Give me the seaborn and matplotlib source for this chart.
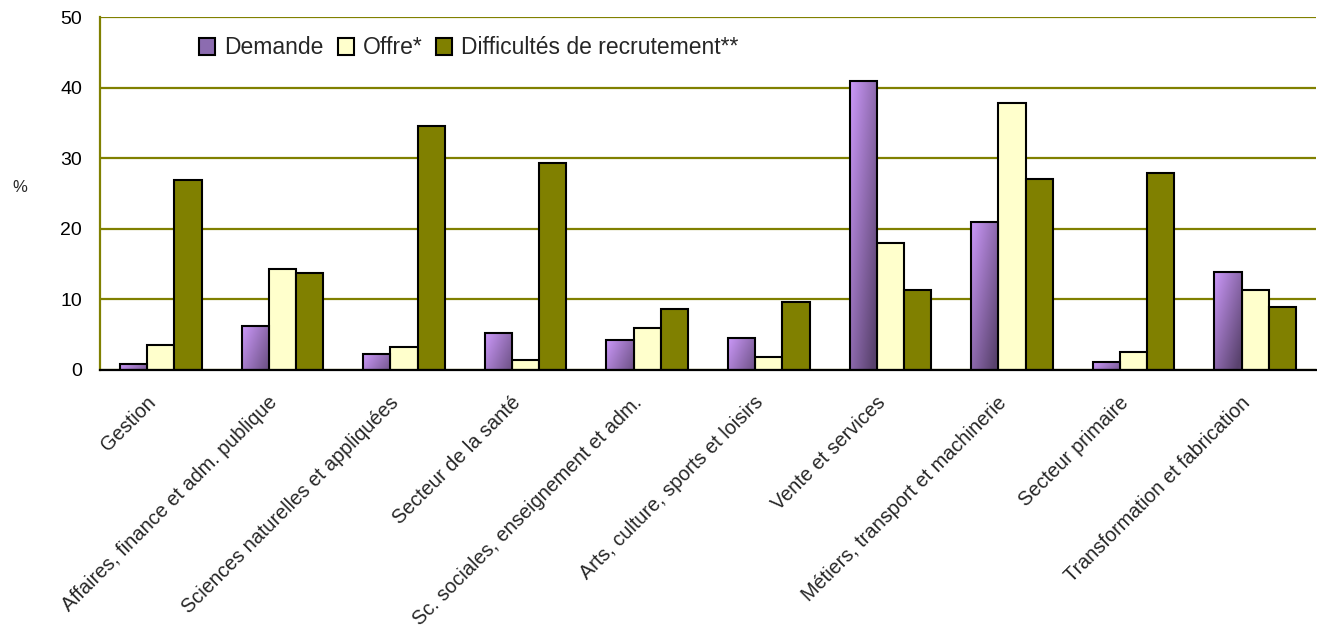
import numpy as np
import pandas as pd
import matplotlib
matplotlib.use("Agg")
import matplotlib.pyplot as plt
import matplotlib.transforms as mtransforms
from matplotlib.patches import Patch
import seaborn as sns

categories = [
    "Gestion",
    "Affaires, finance et adm. publique",
    "Sciences naturelles et appliquées",
    "Secteur de la santé",
    "Sc. sociales, enseignement et adm.",
    "Arts, culture, sports et loisirs",
    "Vente et services",
    "Métiers, transport et machinerie",
    "Secteur primaire",
    "Transformation et fabrication",
]
series_names = ["Demande", "Offre*", "Difficultés de recrutement**"]
demande = [0.8, 6.2, 2.2, 5.2, 4.3, 4.6, 40.9, 21.0, 1.1, 13.9]
offre = [3.5, 14.3, 3.2, 1.4, 5.9, 1.9, 18.0, 37.9, 2.5, 11.3]
difficultes = [26.9, 13.7, 34.6, 29.3, 8.6, 9.7, 11.3, 27.1, 27.9, 8.9]
y_ticks = [0, 10, 20, 30, 40, 50]

OLIVE = "#808000"
colors = ["#8c6cb0", "#FFFFCC", OLIVE]

df = pd.DataFrame({
    "cat": categories * 3,
    "serie": [series_names[0]] * 10 + [series_names[1]] * 10 + [series_names[2]] * 10,
    "val": demande + offre + difficultes,
})

sns.set_style("white")
plt.rcParams["font.family"] = ["Liberation Sans", "DejaVu Sans"]

W, H = 1317, 631
fig = plt.figure(figsize=(W / 100, H / 100), dpi=100)
ax = fig.add_axes([100 / W, 1 - 370 / H, (1316 - 100) / W, (370 - 17.3) / H])

sns.barplot(data=df, x="cat", y="val", hue="serie", order=categories,
            hue_order=series_names, palette=colors, width=0.67, gap=0,
            edgecolor="black", linewidth=1.5, saturation=1, ax=ax, legend=False,
            zorder=3)

# gradient fill for Demande bars
light = np.array([0.80, 0.60, 0.98])
dark = np.array([0.35, 0.26, 0.43])
nx, ny = 40, 200
xs = np.linspace(0, 1, nx)[None, :]
ys = np.linspace(0, 1, ny)[:, None]
for bar in ax.containers[0]:
    x0, y0 = bar.get_x(), bar.get_y()
    w, h = bar.get_width(), bar.get_height()
    t = np.clip(0.55 * xs + 0.55 * ys * min(1.0, h / 20 + 0.3), 0, 1)
    img = light[None, None, :] * (1 - t[..., None]) + dark[None, None, :] * t[..., None]
    im = ax.imshow(img, extent=(x0, x0 + w, y0, y0 + h), origin="upper",
                   aspect="auto", zorder=3.5, interpolation="bilinear")
    im.set_clip_path(bar)
    bar.set_facecolor("none")
    bar.set_zorder(4)

ax.set_xlim(-0.5, 9.5)
ax.set_ylim(0, 50)
ax.set_yticks(y_ticks)
ax.yaxis.grid(True, color=OLIVE, linewidth=1.6, zorder=0)
ax.set_axisbelow(True)
ax.set_xlabel("")
ax.set_ylabel("")

for s in ["top", "right"]:
    ax.spines[s].set_visible(False)
ax.spines["left"].set_color(OLIVE)
ax.spines["left"].set_linewidth(1.6)
ax.spines["bottom"].set_color("black")
ax.spines["bottom"].set_linewidth(1.6)
ax.spines["bottom"].set_zorder(5)

ax.tick_params(axis="y", which="major", length=5, width=1.5, color=OLIVE,
               labelsize=14, pad=8, labelcolor="black")
ax.set_xticks(np.arange(len(categories)))
ax.set_xticks(np.arange(-0.5, len(categories), 1.0), minor=True)
ax.tick_params(axis="x", which="major", length=0, labelsize=14.3, pad=0)
ax.tick_params(axis="x", which="minor", length=7, width=1.5, color="black")

offset = mtransforms.ScaledTranslation(-15 / 100, -23 / 100, fig.dpi_scale_trans)
for lab in ax.get_xticklabels():
    lab.set_rotation(45)
    lab.set_ha("right")
    lab.set_va("top")
    lab.set_rotation_mode("anchor")
    lab.set_transform(lab.get_transform() + offset)

fig.text(20 / W, 1 - 188 / H, "%", fontsize=12, ha="center", va="center")

handles = [Patch(facecolor=c, edgecolor="black", linewidth=1.5) for c in colors]
fig.legend(handles, series_names, loc="center left",
           bbox_to_anchor=(190 / W, 1 - 48 / H), ncol=3, frameon=False,
           fontsize=16.5, handlelength=0.7, handleheight=0.7,
           handletextpad=0.4, columnspacing=0.6, borderaxespad=0)

fig.savefig("out.png", dpi=100, facecolor="white")
